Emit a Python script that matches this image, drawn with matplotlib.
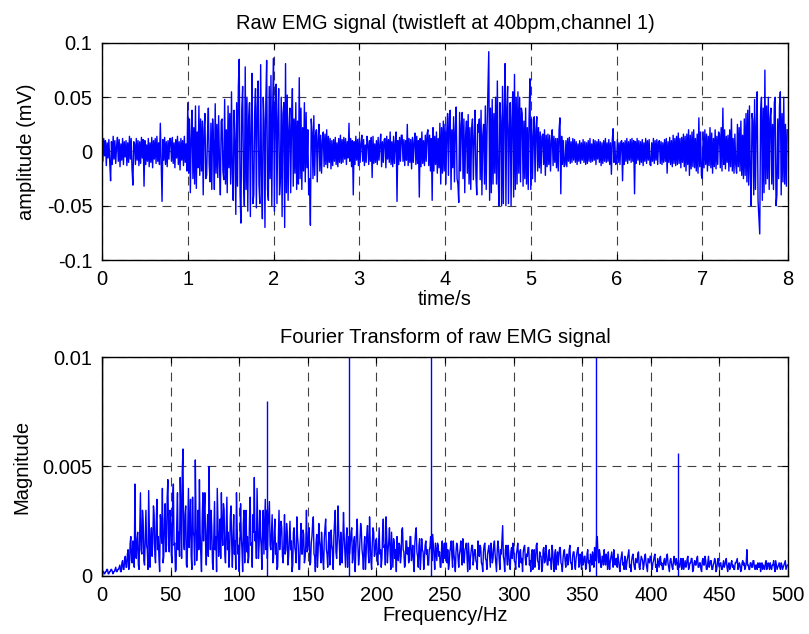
#!/usr/bin/env python3
import numpy as np
import matplotlib
matplotlib.use('Agg')
import matplotlib.pyplot as plt

# raw EMG samples, 0.01 s apart, in microvolts
emg_uV = [
    # 0 s
    6, -9, 12, -4, 10, -13, 8, -6, 11, -10,
    -27, 9, -12, 14, -7, 10, -11, 5, 13, -9,
    11, -14, 7, -8, 12, -12, 9, -5, 10, -13,
    8, -10, 14, -7, 12, -16, -31, 9, 7, -12,
    12, -8, 10, -13, 9, -11, 13, -6, 11, -32,
    10, -12, 6, -9, 12, -14, 8, -10, 13, -15,
    10, -7, 12, -11, 14, -9, 8, -12, 26, -10,
    -46, 11, -8, 13, -12, 9, -14, 10, -7, 12,
    12, -9, 13, -11, 8, -15, 11, -6, 14, -12,
    9, -17, 12, -8, 10, -13, 14, -10, 7, -18,
    # 1 s
    45, -20, 30, -38, 12, 38, -25, 22, -30, 42,
    -34, 18, -15, 42, -22, 30, -18, 28, -40, 20,
    35, -25, -22, 15, 40, -12, -28, 26, -35, 30,
    8, -35, 44, -20, 25, -24, 33, -10, -40, 28,
    30, -18, -26, 48, -30, 20, -38, 42, -15, 35,
    -30, 55, -20, -45, 38, 10, -58, 45, -32, 60,
    85, -40, -66, 40, 60, -25, -50, 78, -35, 50,
    -55, 30, 45, -60, 20, 72, -48, -40, 35, 58,
    -52, 40, 65, -30, -48, 80, -20, -62, 50, 28,
    -70, 45, 84, -35, -45, 60, -25, 70, -50, 40,
    # 2 s
    86, -55, 40, 62, -48, 30, 58, -40, -25, 50,
    -60, 35, 45, -70, 81, -38, 52, -45, 20, 40,
    -38, 25, 58, -32, 30, -20, 45, -35, 28, -30,
    68, -25, 40, -35, 22, -18, 45, -28, 36, -15,
    20, -40, -25, -68, 30, 18, -25, 33, -22, 15,
    20, -28, 12, 25, -18, 15, -20, 10, 18, -14,
    16, -12, 20, -15, 14, -10, 12, -16, 10, -13,
    11, -9, 13, -12, 8, -14, 12, -10, 15, -11,
    11, -10, 13, -7, 12, -12, 9, -6, 26, -9,
    12, -14, 10, -40, 9, -12, 14, -8, 11, -13,
    # 3 s
    12, -10, 8, 15, -9, 11, -13, 6, -10, 14,
    8, -12, 10, -9, 13, -24, 14, -11, 7, -10,
    10, -12, 13, -8, 6, 16, -14, 9, -10, 11,
    12, -15, 14, -7, 11, -10, 18, -12, 9, -14,
    14, -11, 8, 18, -46, 10, -12, 13, -9, 15,
    15, -9, 11, -13, 10, -8, 25, -13, 12, -10,
    11, -16, 13, -10, 9, 17, -12, 14, -11, 10,
    -42, 12, -14, 18, -11, 10, -13, 15, -9, 16,
    20, -13, 15, -18, 12, -45, 22, -18, 14, -12,
    18, -20, 12, -15, 26, -30, 22, -20, 28, -18,
    # 4 s
    25, -30, 18, 35, -22, 30, 38, -35, 20, -15,
    32, -28, 20, 41, -25, -30, -47, 36, -18, 25,
    36, -25, 30, -38, 15, 28, -20, 34, -30, 22,
    -35, 20, 30, -26, 12, 38, -22, -40, 25, 18,
    30, -26, 38, -40, 15, 25, -30, 42, -35, 20,
    55, 92, -45, 40, -38, 48, -30, 35, -20, 50,
    -30, 65, -25, -50, 45, 28, -50, 60, -48, 38,
    81, -50, 40, 60, -48, 20, 45, -50, 30, 55,
    -42, 71, -35, 50, -30, 55, -20, 50, -28, 40,
    35, -32, 28, -25, 40, -30, 22, -35, 30, 67,
    # 5 s
    -35, 30, -25, 15, 32, -28, 20, 32, -18, 22,
    -15, 18, -20, 14, 16, -12, 20, -22, 15, -14,
    16, -12, 15, -18, 10, 20, -13, 14, -10, 12,
    -15, 12, -18, 20, 31, -39, 14, -12, 10, -14,
    -12, 10, -14, 12, -9, 13, -11, 9, -10, 12,
    -8, 11, -10, 9, -12, 7, -9, 10, -11, 8,
    -8, 11, -10, 9, -12, 8, -11, 10, -9, 12,
    -10, 7, -9, 11, -8, 10, -12, 9, -7, 11,
    -10, 9, -13, 8, -11, 10, -9, 12, -10, 8,
    -9, 11, -12, 8, -21, 10, 21, -10, 9, -12,
    # 6 s
    -9, 11, -10, 8, -12, 9, 10, -27, 8, -12,
    10, -9, 12, -11, 9, -8, 11, -10, 12, -9,
    10, -39, 9, -11, 12, -8, 10, -12, 9, -10,
    11, -13, 8, -9, 12, -11, 10, -8, 11, -12,
    -13, 8, -9, 12, -11, 10, -8, 11, -12, 9,
    10, -11, 9, -12, 8, -10, 11, -9, 12, -20,
    9, -10, 13, -12, 10, -14, 15, -11, 12, -13,
    14, -12, 17, -11, 12, -15, 13, -10, 16, -14,
    14, -18, 16, -12, 20, -22, 15, -16, 18, -14,
    20, -15, 12, -18, 16, -20, 31, -14, 18, -22,
    # 7 s
    -25, 18, -15, 20, -12, 16, -18, 14, -13, 22,
    -15, 17, -20, 12, -14, 20, -16, 14, -12, 18,
    16, -15, 22, -18, 40, -12, 20, -16, 14, -10,
    15, -18, 20, -14, 30, -18, 12, -20, 16, -12,
    -20, 25, -14, 22, -18, 28, -22, 15, -25, 30,
    -22, 35, -28, 38, -31, 42, -20, -50, 35, 28,
    -40, 48, -35, 25, 55, -45, -60, -76, 35, 50,
    -45, 40, -38, 75, -30, 42, -25, 50, -35, 30,
    40, -30, 25, -35, 45, 50, -50, -40, 30, -25,
    42, 55, -40, 35, -28, 50, -30, 25, -32, 20,
]
emg_step_s = 0.01

# broadband FFT magnitude, 0.5 Hz apart from 0 to 500 Hz, in units of 1e-4
mag_e4 = [
    # 0-25 Hz
    3, 2, 2, 1, 1, 2, 2, 3, 3, 1, 1, 2, 2, 3, 3, 2, 1, 2, 2, 3,
    4, 2, 2, 3, 3, 4, 5, 2, 2, 6, 7, 3, 3, 8, 9, 4, 4, 10, 12, 3,
    5, 15, 18, 7, 6, 16, 14, 4, 42, 10,
    # 25-50 Hz
    8, 17, 20, 5, 3, 22, 38, 12, 10, 30, 25, 7, 5, 18, 30, 14, 12, 3, 39, 20,
    4, 16, 22, 9, 15, 32, 28, 10, 6, 24, 35, 12, 18, 8, 2, 28, 24, 15, 40, 6,
    9, 26, 33, 11, 14, 36, 44, 18, 11, 30,
    # 50-75 Hz
    28, 10, 6, 35, 42, 14, 15, 2, 3, 25, 38, 12, 20, 9, 45, 30, 8, 48, 58, 16,
    12, 28, 32, 5, 4, 22, 40, 13, 22, 35, 9, 3, 36, 20, 18, 5, 53, 26, 7, 15,
    30, 12, 44, 20, 10, 2, 25, 38, 16, 30,
    # 75-100 Hz
    38, 14, 5, 20, 28, 9, 50, 24, 12, 30, 22, 6, 3, 18, 34, 12, 18, 2, 40, 25,
    9, 16, 26, 8, 38, 20, 14, 33, 30, 10, 6, 22, 36, 12, 20, 4, 11, 27, 32, 15,
    4, 18, 28, 10, 16, 3, 38, 22, 10, 14,
    # 100-125 Hz
    2, 15, 33, 18, 12, 2, 24, 30, 6, 20, 30, 11, 18, 6, 9, 26, 36, 14, 15, 4,
    28, 20, 45, 16, 20, 8, 40, 25, 8, 14, 30, 18, 14, 3, 25, 30, 10, 22, 35, 12,
    30, 8, 22, 28, 34, 14, 12, 20, 28, 6,
    # 125-150 Hz
    8, 20, 26, 10, 15, 3, 4, 18, 30, 12, 18, 25, 22, 9, 6, 14, 28, 10, 12, 24,
    20, 5, 9, 17, 25, 12, 16, 2, 5, 20, 22, 13, 11, 6, 27, 18, 14, 3, 3, 15,
    24, 10, 10, 21, 19, 6, 8, 14, 30, 11,
    # 150-175 Hz
    12, 20, 22, 5, 6, 15, 18, 24, 27, 10, 9, 2, 15, 19, 4, 11, 24, 16, 13, 6,
    20, 14, 7, 3, 17, 22, 26, 12, 10, 4, 15, 20, 5, 9, 21, 14, 12, 3, 18, 25,
    30, 11, 8, 16, 32, 20, 14, 5, 20, 12,
    # 175-200 Hz
    6, 15, 29, 18, 11, 4, 17, 22, 4, 12, 18, 10, 15, 20, 22, 6, 8, 16, 18, 2,
    12, 20, 26, 14, 5, 9, 16, 24, 21, 12, 9, 3, 14, 18, 3, 10, 19, 23, 11, 6,
    27, 15, 7, 3, 15, 22, 20, 9, 10, 16,
    # 200-225 Hz
    17, 8, 5, 14, 22, 10, 12, 4, 8, 20, 26, 13, 14, 5, 27, 18, 6, 12, 16, 22,
    10, 3, 20, 12, 4, 17, 15, 8, 12, 2, 18, 11, 7, 15, 14, 6, 9, 21, 22, 12,
    11, 4, 5, 16, 16, 10, 13, 6, 8, 18,
    # 225-250 Hz
    18, 7, 10, 14, 6, 2, 15, 20, 22, 11, 9, 4, 14, 17, 3, 9, 17, 12, 11, 3,
    8, 14, 16, 10, 12, 5, 5, 12, 13, 18, 12, 7, 19, 14, 9, 3, 15, 11, 7, 15,
    14, 9, 11, 4, 4, 13, 16, 6, 10, 15,
    # 250-275 Hz
    8, 13, 15, 6, 12, 3, 5, 11, 13, 16, 9, 4, 16, 10, 7, 2, 11, 15, 14, 8,
    4, 10, 12, 16, 10, 5, 17, 9, 6, 12, 13, 15, 9, 2, 15, 10, 3, 8, 11, 14,
    14, 5, 8, 12, 12, 7, 6, 3, 16, 11,
    # 275-300 Hz
    9, 14, 13, 6, 5, 2, 11, 14, 15, 8, 7, 3, 10, 12, 14, 9, 4, 15, 12, 6,
    8, 14, 16, 10, 6, 2, 11, 16, 13, 7, 3, 12, 10, 17, 23, 9, 7, 2, 12, 14,
    9, 5, 14, 10, 5, 3, 11, 13, 8, 15,
    # 300-325 Hz
    13, 7, 6, 3, 10, 12, 15, 9, 4, 11, 12, 6, 8, 2, 11, 13, 14, 8, 5, 10,
    9, 13, 13, 5, 7, 2, 10, 12, 3, 11, 12, 4, 8, 14, 15, 7, 6, 3, 11, 9,
    9, 2, 4, 12, 13, 6, 7, 14, 10, 5,
    # 325-350 Hz
    5, 10, 12, 7, 8, 3, 14, 11, 6, 2, 10, 12, 3, 8, 11, 5, 9, 13, 13, 6,
    5, 2, 8, 11, 12, 7, 4, 9, 10, 5, 7, 12, 14, 6, 6, 3, 9, 11, 11, 5,
    3, 8, 10, 12, 13, 4, 5, 10, 8, 3,
    # 350-375 Hz
    11, 5, 6, 9, 9, 3, 4, 10, 12, 6, 7, 2, 10, 8, 5, 11, 8, 4, 13, 7,
    10, 18, 18, 9, 6, 12, 10, 4, 4, 9, 9, 5, 12, 7, 5, 10, 8, 3, 11, 6,
    3, 7, 9, 11, 7, 4, 12, 6, 5, 8,
    # 375-400 Hz
    8, 4, 10, 7, 4, 2, 7, 9, 11, 5, 6, 3, 9, 8, 3, 6, 8, 10, 12, 4,
    5, 2, 7, 9, 10, 6, 4, 3, 8, 7, 6, 10, 11, 4, 3, 6, 9, 8, 7, 3,
    5, 9, 10, 6, 4, 2, 8, 7, 6, 9,
    # 400-425 Hz
    9, 5, 3, 6, 7, 9, 10, 4, 5, 2, 8, 6, 4, 8, 9, 5, 6, 3, 3, 7,
    8, 5, 5, 9, 10, 6, 4, 2, 7, 8, 6, 4, 3, 7, 9, 6, 5, 8, 7, 3,
    6, 5, 4, 7, 8, 3, 6, 8, 3, 5,
    # 425-450 Hz
    7, 4, 5, 8, 9, 3, 4, 6, 6, 8, 8, 2, 3, 6, 7, 5, 5, 8, 9, 4,
    4, 6, 6, 3, 2, 7, 8, 5, 5, 9, 7, 3, 3, 6, 9, 4, 5, 7, 7, 3,
    3, 5, 6, 8, 7, 2, 3, 6, 8, 5,
    # 450-475 Hz
    4, 6, 6, 3, 3, 5, 7, 4, 5, 7, 8, 4, 2, 5, 6, 3, 4, 6, 7, 4,
    5, 3, 3, 6, 6, 7, 8, 3, 4, 6, 5, 2, 3, 6, 7, 5, 6, 3, 4, 6,
    12, 5, 5, 3, 3, 6, 6, 4, 4, 7,
    # 475-500 Hz
    7, 4, 3, 5, 5, 3, 6, 4, 4, 6, 2, 5, 6, 3, 5, 4, 3, 6, 7, 3,
    4, 6, 5, 3, 6, 4, 3, 5, 5, 7, 4, 2, 7, 5, 3, 4, 5, 6, 4, 3,
    6, 5, 3, 4, 5, 6, 7, 3, 4, 5,
    5,
]
freq_step_hz = 0.5

# narrow lines (DC and mains harmonics), units of 1e-4; 150 = off the top
hum_hz = [0, 120, 180, 240, 360, 420]
hum_e4 = [150, 80, 150, 150, 150, 56]

time_ticks = [0, 1, 2, 3, 4, 5, 6, 7, 8]
amp_ticks = [-0.1, -0.05, 0, 0.05, 0.1]
amp_labels = ['-0.1', '-0.05', '0', '0.05', '0.1']
freq_ticks = list(range(0, 501, 50))
mag_ticks = [0, 0.005, 0.01]
mag_labels = ['0', '0.005', '0.01']

plt.rcParams['font.family'] = ['Liberation Sans', 'DejaVu Sans']
plt.rcParams['font.size'] = 14.5


def style_axes(ax):
    ax.grid(True, color='#404040', linestyle=(0, (8, 5.5)), linewidth=0.8)
    ax.tick_params(direction='in', top=True, right=True, length=4,
                   width=0.8, labelsize=14.5, pad=7)
    for sp in ax.spines.values():
        sp.set_linewidth(1.0)
        sp.set_color('black')


fig = plt.figure(figsize=(8.09, 6.34), dpi=100)

# raw signal
ax1 = fig.add_axes([0.1261, 0.5899, 0.848, 0.3423])
t = np.arange(len(emg_uV)) * emg_step_s
ax1.plot(t, np.array(emg_uV) / 1000.0, color='#0000ff', linewidth=1.0)
ax1.set_xlim(0, 8)
ax1.set_ylim(-0.1, 0.1)
ax1.set_xticks(time_ticks)
ax1.set_yticks(amp_ticks)
ax1.set_yticklabels(amp_labels)
ax1.set_title('Raw EMG signal (twistleft at 40bpm,channel 1)', fontsize=14.5, pad=10)
ax1.set_xlabel('time/s', labelpad=1)
ax1.set_ylabel('amplitude (mV)', labelpad=8)
style_axes(ax1)

# spectrum
ax2 = fig.add_axes([0.1261, 0.0915, 0.848, 0.3454])
f = np.arange(len(mag_e4)) * freq_step_hz
ax2.plot(f, np.array(mag_e4) * 1e-4, color='#0000ff', linewidth=1.0)
ax2.vlines(hum_hz, 0, np.array(hum_e4) * 1e-4, color='#0000ff', linewidth=1.0)
ax2.set_xlim(0, 500)
ax2.set_ylim(0, 0.01)
ax2.set_xticks(freq_ticks)
ax2.set_yticks(mag_ticks)
ax2.set_yticklabels(mag_labels)
ax2.set_title('Fourier Transform of raw EMG signal', fontsize=14.5, pad=10)
ax2.set_xlabel('Frequency/Hz', labelpad=1)
ax2.set_ylabel('Magnitude', labelpad=8)
style_axes(ax2)

fig.savefig('out.png', dpi=100)
